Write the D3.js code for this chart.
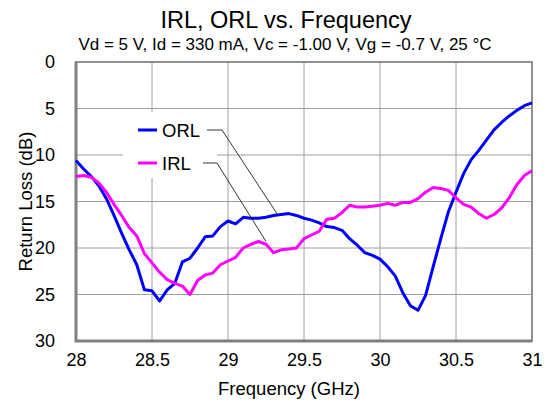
<!DOCTYPE html>
<html>
<head>
<meta charset="utf-8">
<script src="https://cdn.jsdelivr.net/npm/d3@7"></script>
<style>
  body { margin: 0; background: #fff; }
  text { font-family: "Liberation Sans", Arial, sans-serif; fill: #000; }
</style>
</head>
<body>
<svg id="chart" width="550" height="407"></svg>
<script>
// frequency points (GHz)
const freq = d3.range(0, 61).map(i => +(28 + i * 0.05).toFixed(2));

const orl = [10.6, 11.5, 12.3, 13.3, 14.7, 16.5, 18.4, 20.2, 21.8, 24.5,
  24.6, 25.7, 24.5, 23.8, 21.5, 21.1, 20.0, 18.8, 18.7, 17.7,
  17.1, 17.4, 16.7, 16.8, 16.8, 16.7, 16.5, 16.4, 16.3, 16.5,
  16.8, 17.0, 17.3, 17.7, 17.8, 18.1, 19.0, 19.7, 20.5, 20.8,
  21.2, 22.0, 23.0, 24.8, 26.2, 26.7, 25.1, 22.0, 19.0, 16.1,
  14.0, 12.0, 10.5, 9.5, 8.4, 7.3, 6.5, 5.8, 5.2, 4.7, 4.4];

const irl = [12.3, 12.2, 12.4, 13.0, 14.0, 15.3, 16.5, 17.8, 18.7, 20.6,
  21.6, 22.6, 23.4, 23.8, 24.1, 25.0, 23.5, 22.9, 22.7, 21.8,
  21.4, 21.0, 20.0, 19.6, 19.3, 19.6, 20.5, 20.2, 20.1, 20.0,
  19.0, 18.6, 18.2, 16.9, 16.8, 16.2, 15.4, 15.6, 15.6, 15.5,
  15.4, 15.2, 15.4, 15.1, 15.1, 14.7, 14.0, 13.5, 13.6, 13.8,
  14.6, 15.3, 15.6, 16.3, 16.8, 16.4, 15.7, 14.6, 13.2, 12.2, 11.7];

const xTicks = [28, 28.5, 29, 29.5, 30, 30.5, 31];
const yTicks = [0, 5, 10, 15, 20, 25, 30];

const series = [
  { name: "ORL", values: orl, color: "#0000ff" },
  { name: "IRL", values: irl, color: "#ff00ff" }
];

const svg = d3.select("#chart");
const margin = { left: 76, right: 18, top: 62, bottom: 66 };
const width = 550, height = 407;

const x = d3.scaleLinear().domain([28, 31]).range([margin.left, width - margin.right]);
const y = d3.scaleLinear().domain([0, 30]).range([margin.top, height - margin.bottom]);

// gridlines
svg.append("g")
  .selectAll("line.v")
  .data(xTicks)
  .enter().append("line")
    .attr("x1", d => x(d)).attr("x2", d => x(d))
    .attr("y1", y(0)).attr("y2", y(30))
    .attr("stroke", "#a0a0a0").attr("stroke-width", 1);

svg.append("g")
  .selectAll("line.h")
  .data(yTicks)
  .enter().append("line")
    .attr("x1", x(28)).attr("x2", x(31))
    .attr("y1", d => y(d)).attr("y2", d => y(d))
    .attr("stroke", "#a0a0a0").attr("stroke-width", 1);

// frame
svg.append("rect")
  .attr("x", x(28)).attr("y", y(0))
  .attr("width", x(31) - x(28)).attr("height", y(30) - y(0))
  .attr("fill", "none").attr("stroke", "#909090").attr("stroke-width", 2);

// left and bottom axis (thicker)
svg.append("path")
  .attr("d", `M${x(28)},${y(0)}V${y(30)}H${x(31)}`)
  .attr("fill", "none").attr("stroke", "#808080").attr("stroke-width", 3);

// tick labels
const xAxis = d3.axisBottom(x).tickValues(xTicks).tickSize(0).tickFormat(d3.format(""));
svg.append("g")
  .attr("transform", `translate(0,${y(30) + 9})`)
  .call(xAxis)
  .call(g => g.select(".domain").remove())
  .selectAll("text")
    .style("font-size", "18px")
    .style("font-family", "Liberation Sans, Arial, sans-serif")
    .attr("fill", "#000");

const yAxis = d3.axisLeft(y).tickValues(yTicks).tickSize(0);
svg.append("g")
  .attr("transform", `translate(${x(28) - 18},0)`)
  .call(yAxis)
  .call(g => g.select(".domain").remove())
  .selectAll("text")
    .style("font-size", "18px")
    .style("font-family", "Liberation Sans, Arial, sans-serif")
    .attr("fill", "#000");

// lines
const line = d3.line()
  .x((d, i) => x(freq[i]))
  .y(d => y(d));

svg.append("g")
  .selectAll("path")
  .data(series)
  .enter().append("path")
    .attr("d", d => line(d.values))
    .attr("fill", "none")
    .attr("stroke", d => d.color)
    .attr("stroke-width", 3)
    .attr("stroke-linejoin", "round");

// legend
svg.append("rect")
  .attr("x", 123).attr("y", 112)
  .attr("width", 94).attr("height", 66)
  .attr("fill", "#fff");

const legend = svg.append("g")
  .selectAll("g")
  .data(series)
  .enter().append("g")
    .attr("transform", (d, i) => `translate(0,${130 + i * 33})`);

legend.append("line")
  .attr("x1", 138).attr("x2", 157)
  .attr("stroke", d => d.color).attr("stroke-width", 3);

legend.append("text")
  .attr("x", 162).attr("y", 7)
  .style("font-size", "18.5px")
  .text(d => d.name);

// leader lines
const leaders = [
  { pts: [[207, 130], [222, 130], [x(29.33), y(16.5)]] },
  { pts: [[203, 163], [217, 163], [x(29.25), y(19.3)]] }
];
svg.append("g")
  .selectAll("path")
  .data(leaders)
  .enter().append("path")
    .attr("d", d => d3.line()(d.pts))
    .attr("fill", "none")
    .attr("stroke", "#000")
    .attr("stroke-width", 0.8);

// titles
svg.append("text")
  .attr("x", 286).attr("y", 28)
  .attr("text-anchor", "middle")
  .style("font-size", "23.5px")
  .text("IRL, ORL vs. Frequency");

svg.append("text")
  .attr("x", 285).attr("y", 50)
  .attr("text-anchor", "middle")
  .style("font-size", "17px")
  .text("Vd = 5 V, Id = 330 mA, Vc = -1.00 V, Vg = -0.7 V, 25 °C");

svg.append("text")
  .attr("x", 289).attr("y", 395)
  .attr("text-anchor", "middle")
  .style("font-size", "18.5px")
  .text("Frequency (GHz)");

svg.append("text")
  .attr("transform", `translate(32,${(y(0) + y(30)) / 2}) rotate(-90)`)
  .attr("text-anchor", "middle")
  .style("font-size", "18.5px")
  .text("Return Loss (dB)");
</script>
</body>
</html>
